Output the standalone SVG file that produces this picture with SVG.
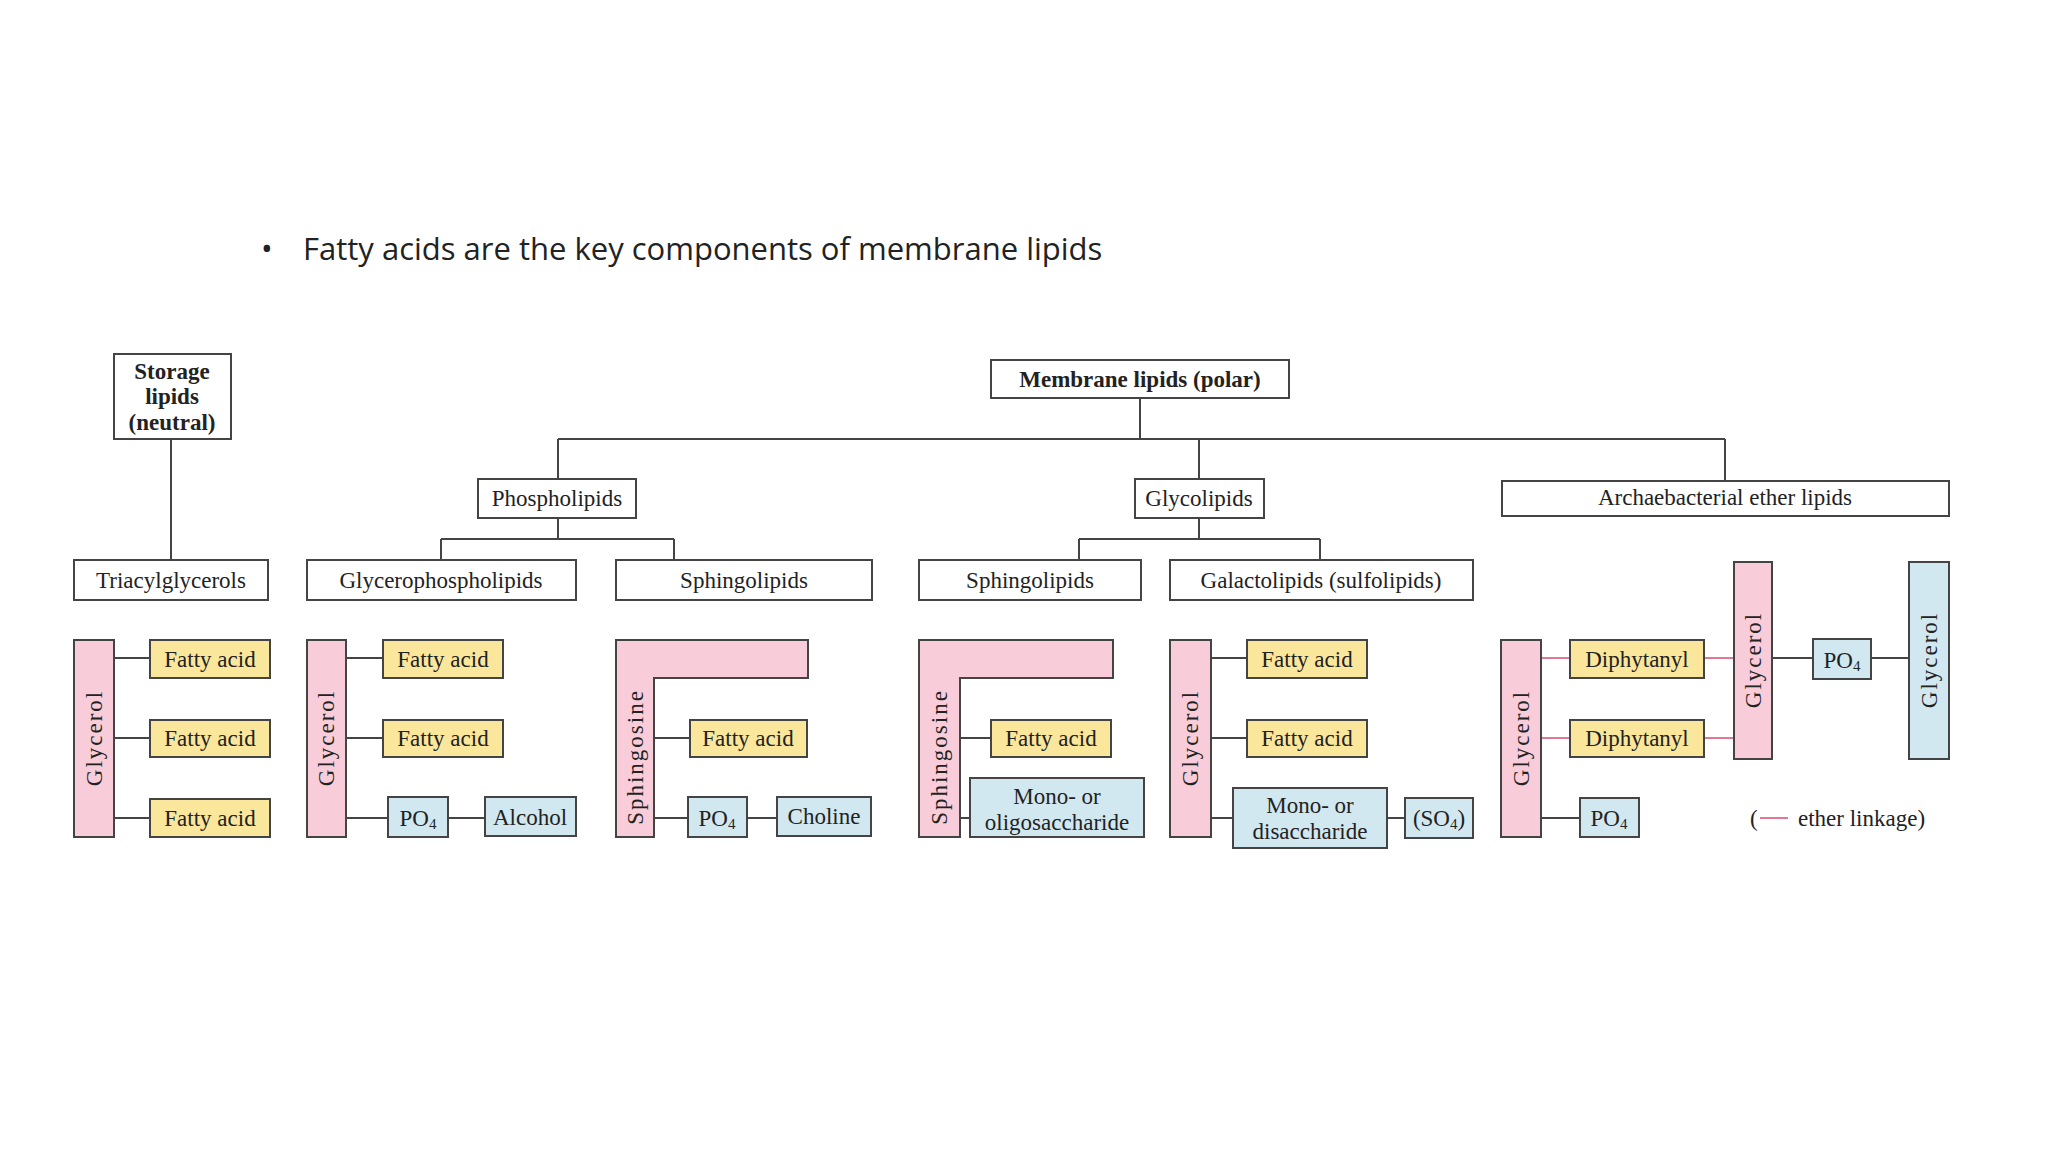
<svg xmlns="http://www.w3.org/2000/svg" width="2048" height="1152" viewBox="0 0 2048 1152">
<style>
.b{fill:#fff;stroke:#444;stroke-width:2}
.p{fill:#f8cdd9;stroke:#444;stroke-width:2}
.y{fill:#fbe79b;stroke:#444;stroke-width:2}
.c{fill:#d2e8f0;stroke:#444;stroke-width:2}
text{font-family:"Liberation Serif",serif;font-size:23px;fill:#222;text-anchor:middle;dominant-baseline:central}
.bd{font-weight:bold}
.v{letter-spacing:2px}
.l{stroke:#444;stroke-width:2;fill:none}
.e{stroke:#e07a92;stroke-width:2;fill:none}
</style>
<rect width="2048" height="1152" fill="#fff"/>
<text x="261" y="248" style="font-family:'Open Sans','Liberation Sans',sans-serif;font-size:31px;text-anchor:start">•</text>
<text x="303" y="248" style="font-family:'Open Sans','Liberation Sans',sans-serif;font-size:31px;text-anchor:start">Fatty acids are the key components of membrane lipids</text>
<g id="connectors">
<path class="l" d="M171 439V560M1140 398V439M558 439H1725M558 439V479M1199 439V479M1725 439V481M558 518V539M441 539H674M441 539V560M674 539V560M1199 518V539M1079 539H1320M1079 539V560M1320 539V560"/>
<path class="l" d="M114 658H150M114 738H150M114 818H150M346 658H383M346 738H383M346 818H388M448 818H485M654 738H690M654 818H688M747 818H777M960 738H991M960 818H970M1211 658H1247M1211 738H1247M1211 818H1233M1387 818H1405M1541 818H1580M1772 658H1813M1871 658H1909"/>
<path class="e" d="M1541 658H1570M1541 738H1570M1704 658H1734M1704 738H1734M1760 818H1788"/>
</g>
<g id="storage"><rect class="b" x="114" y="354" width="117" height="85"/><text class="bd" x="172" y="371">Storage</text><text class="bd" x="172" y="396">lipids</text><text class="bd" x="172" y="422">(neutral)</text></g>
<g id="membrane"><rect class="b" x="991" y="360" width="298" height="38"/><text class="bd" x="1140" y="379">Membrane lipids (polar)</text></g>
<g id="phospholipids"><rect class="b" x="478" y="479" width="158" height="39"/><text x="557" y="498">Phospholipids</text></g>
<g id="glycolipids"><rect class="b" x="1135" y="479" width="129" height="39"/><text x="1199" y="498">Glycolipids</text></g>
<g id="archae"><rect class="b" x="1502" y="481" width="447" height="35"/><text x="1725" y="497">Archaebacterial ether lipids</text></g>
<g id="triacyl"><rect class="b" x="74" y="560" width="194" height="40"/><text x="171" y="580">Triacylglycerols</text></g>
<g id="glycerophos"><rect class="b" x="307" y="560" width="269" height="40"/><text x="441" y="580">Glycerophospholipids</text></g>
<g id="sphingo1"><rect class="b" x="616" y="560" width="256" height="40"/><text x="744" y="580">Sphingolipids</text></g>
<g id="sphingo2"><rect class="b" x="919" y="560" width="222" height="40"/><text x="1030" y="580">Sphingolipids</text></g>
<g id="galacto"><rect class="b" x="1170" y="560" width="303" height="40"/><text x="1321" y="580">Galactolipids (sulfolipids)</text></g>
<g id="col1">
<rect class="p" x="74" y="640" width="40" height="197"/><text class="v" transform="translate(94 738) rotate(-90)">Glycerol</text>
<rect class="y" x="150" y="640" width="120" height="38"/><text x="210" y="659">Fatty acid</text>
<rect class="y" x="150" y="720" width="120" height="37"/><text x="210" y="738">Fatty acid</text>
<rect class="y" x="150" y="799" width="120" height="38"/><text x="210" y="818">Fatty acid</text>
</g>
<g id="col2">
<rect class="p" x="307" y="640" width="39" height="197"/><text class="v" transform="translate(326 738) rotate(-90)">Glycerol</text>
<rect class="y" x="383" y="640" width="120" height="38"/><text x="443" y="659">Fatty acid</text>
<rect class="y" x="383" y="720" width="120" height="37"/><text x="443" y="738">Fatty acid</text>
<rect class="c" x="388" y="797" width="60" height="40"/><text x="418" y="818">PO<tspan font-size="15" dy="6">4</tspan></text>
<rect class="c" x="485" y="797" width="91" height="39"/><text x="530" y="817">Alcohol</text>
</g>
<g id="col3">
<path class="p" d="M616 640H808V678H654V837H616Z"/><text class="v" transform="translate(635 757) rotate(-90)">Sphingosine</text>
<rect class="y" x="690" y="720" width="117" height="37"/><text x="748" y="738">Fatty acid</text>
<rect class="c" x="688" y="797" width="59" height="40"/><text x="717" y="818">PO<tspan font-size="15" dy="6">4</tspan></text>
<rect class="c" x="777" y="797" width="94" height="39"/><text x="824" y="816">Choline</text>
</g>
<g id="col4">
<path class="p" d="M919 640H1113V678H960V837H919Z"/><text class="v" transform="translate(939 757) rotate(-90)">Sphingosine</text>
<rect class="y" x="991" y="720" width="120" height="37"/><text x="1051" y="738">Fatty acid</text>
<rect class="c" x="970" y="778" width="174" height="59"/><text x="1057" y="796">Mono- or</text><text x="1057" y="822">oligosaccharide</text>
</g>
<g id="col5">
<rect class="p" x="1170" y="640" width="41" height="197"/><text class="v" transform="translate(1190 738) rotate(-90)">Glycerol</text>
<rect class="y" x="1247" y="640" width="120" height="38"/><text x="1307" y="659">Fatty acid</text>
<rect class="y" x="1247" y="720" width="120" height="37"/><text x="1307" y="738">Fatty acid</text>
<rect class="c" x="1233" y="788" width="154" height="60"/><text x="1310" y="805">Mono- or</text><text x="1310" y="831">disaccharide</text>
<rect class="c" x="1405" y="798" width="68" height="40"/><text x="1439" y="818">(SO<tspan font-size="15" dy="6">4</tspan><tspan dy="-6">)</tspan></text>
</g>
<g id="col6">
<rect class="p" x="1501" y="640" width="40" height="197"/><text class="v" transform="translate(1521 738) rotate(-90)">Glycerol</text>
<rect class="y" x="1570" y="640" width="134" height="38"/><text x="1637" y="659">Diphytanyl</text>
<rect class="y" x="1570" y="720" width="134" height="37"/><text x="1637" y="738">Diphytanyl</text>
<rect class="p" x="1734" y="562" width="38" height="197"/><text class="v" transform="translate(1753 660) rotate(-90)">Glycerol</text>
<rect class="c" x="1813" y="639" width="58" height="40"/><text x="1842" y="660">PO<tspan font-size="15" dy="6">4</tspan></text>
<rect class="c" x="1909" y="562" width="40" height="197"/><text class="v" transform="translate(1929 660) rotate(-90)">Glycerol</text>
<rect class="c" x="1580" y="798" width="59" height="39"/><text x="1609" y="818">PO<tspan font-size="15" dy="6">4</tspan></text>
<text x="1750" y="818" style="text-anchor:start">(</text><text x="1798" y="818" style="text-anchor:start">ether linkage)</text>
</g>
</svg>
